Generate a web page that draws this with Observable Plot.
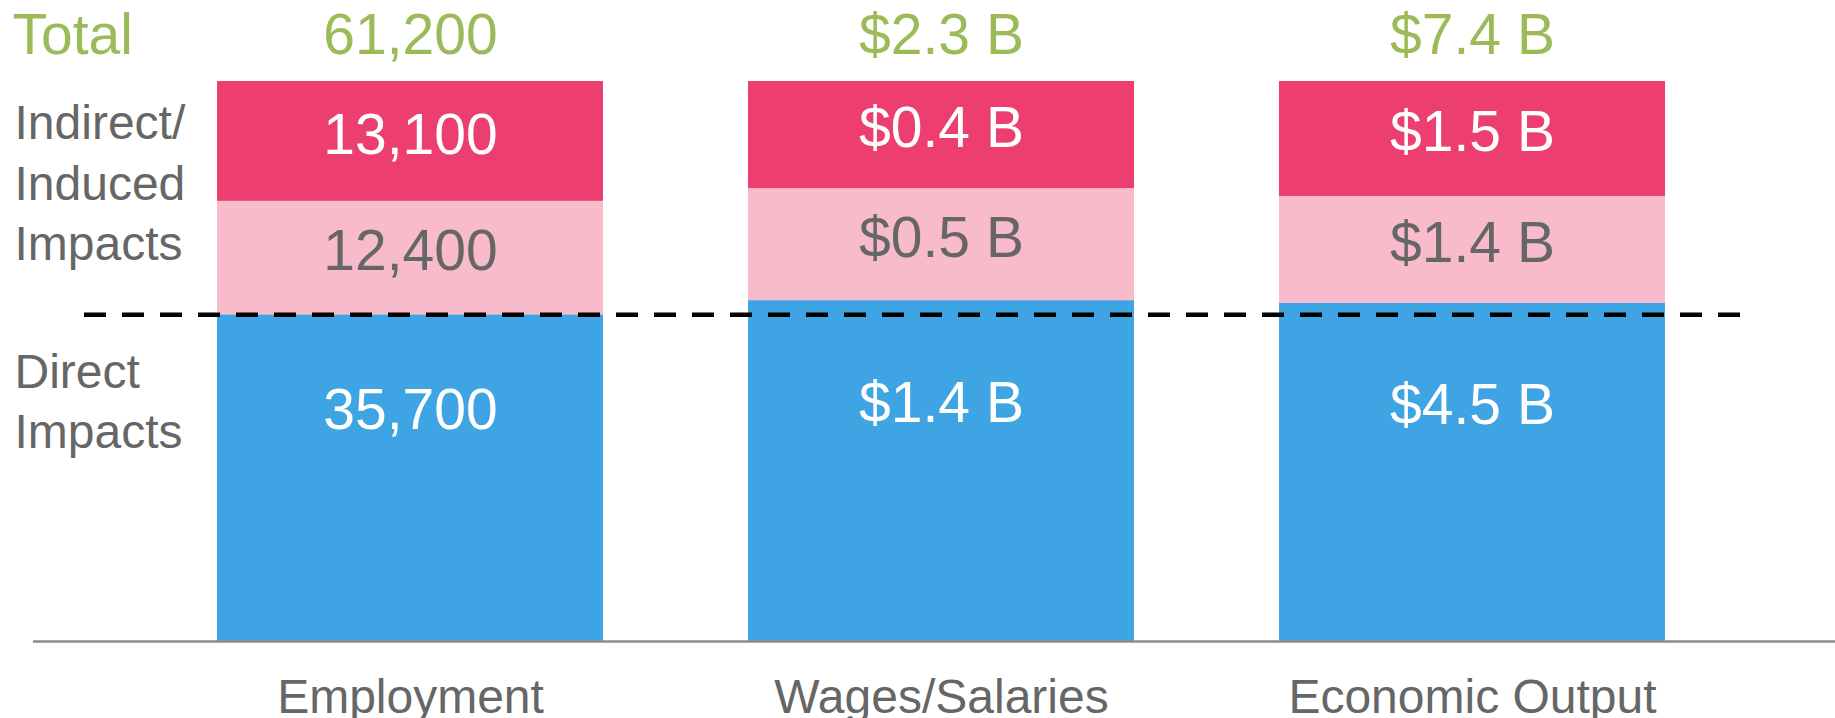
<!DOCTYPE html>
<html>
<head>
<meta charset="utf-8">
<script src="https://cdn.jsdelivr.net/npm/d3@7"></script>
<script src="https://cdn.jsdelivr.net/npm/@observablehq/plot@0.6"></script>
<style>
  html, body { margin: 0; padding: 0; background: #fff; }
  #chart svg { display: block; }
</style>
</head>
<body>
<div id="chart"></div>
<script>
// ---- data ----
const categories = ["Employment", "Wages/Salaries", "Economic Output"];
const layers = ["Direct", "Indirect", "Induced"];
const layerColors = ["#3FA4E3", "#F8BBCB", "#EC3E6F"];
const direct = [35700, 1.40, 4.47];
const indirect = [12400, 0.46, 1.41];
const induced = [13100, 0.44, 1.52];
const directLabels = ["35,700", "$1.4 B", "$4.5 B"];
const indirectLabels = ["12,400", "$0.5 B", "$1.4 B"];
const inducedLabels = ["13,100", "$0.4 B", "$1.5 B"];
const totalLabels = ["61,200", "$2.3 B", "$7.4 B"];
const sideTitle = "Total";
const indirectTitle = "Indirect/\nInduced\nImpacts";
const directTitle = "Direct\nImpacts";

// ---- table ----
const rows = [];
const series = [direct, indirect, induced];
const seriesLabels = [directLabels, indirectLabels, inducedLabels];
layers.forEach((layer, li) => {
  categories.forEach((cat, ci) => {
    rows.push({category: cat, layer, value: series[li][ci], label: seriesLabels[li][ci]});
  });
});
const totals = categories.map((c, i) => ({category: c, label: totalLabels[i]}));
const empDirectShare = direct[0] / (direct[0] + indirect[0] + induced[0]);

const font = "'Liberation Sans', Arial, sans-serif";
const gray = "#666666";
const green = "#9BBB59";

const stackOpts = {x: "category", y: "value", z: "layer", offset: "normalize", order: layers};
const labelFor = (layer) => (d) => d.layer === layer ? d.label : null;

const chart = Plot.plot({
  width: 1835,
  height: 718,
  marginTop: 81,
  marginBottom: 77,
  marginLeft: 72,
  marginRight: 25,
  style: {fontFamily: font, background: "#fff"},
  x: {type: "band", domain: categories, padding: 0.273, axis: null},
  y: {domain: [0, 1], axis: null},
  color: {domain: layers, range: layerColors},
  marks: [
    Plot.barY(rows, Plot.stackY({...stackOpts, fill: "layer"})),
    Plot.text(rows, Plot.stackY({...stackOpts, text: labelFor("Direct"), fill: "white", fontSize: 57, dy: -67})),
    Plot.text(rows, Plot.stackY({...stackOpts, text: labelFor("Indirect"), fill: gray, fontSize: 57, dy: -6})),
    Plot.text(rows, Plot.stackY({...stackOpts, text: labelFor("Induced"), fill: "white", fontSize: 57, dy: -6})),
    Plot.ruleY([empDirectShare], {stroke: "black", strokeWidth: 4.5, strokeDasharray: "22,16", insetLeft: 12, insetRight: 66}),
    Plot.ruleY([0], {stroke: "#8c8c8c", strokeWidth: 2.5, insetLeft: -39, insetRight: -25}),
    Plot.text(totals, {x: "category", y: () => 1, text: "label", fill: green, fontSize: 57, lineAnchor: "bottom", dy: -28}),
    Plot.text([sideTitle], {frameAnchor: "top-left", text: d => d, textAnchor: "start", lineAnchor: "top", fill: green, fontSize: 57, dx: -60, dy: -68}),
    Plot.text([indirectTitle], {frameAnchor: "top-left", text: d => d, textAnchor: "start", lineAnchor: "top", fill: gray, fontSize: 48, lineHeight: 1.26, dx: -58, dy: 15}),
    Plot.text([directTitle], {frameAnchor: "top-left", text: d => d, textAnchor: "start", lineAnchor: "top", fill: gray, fontSize: 48, lineHeight: 1.25, dx: -58, dy: 264}),
    Plot.axisX({domain: categories, tickSize: 0, tickPadding: 37, fontSize: 48, fill: gray, label: null})
  ]
});
document.getElementById("chart").appendChild(chart);
</script>
</body>
</html>
